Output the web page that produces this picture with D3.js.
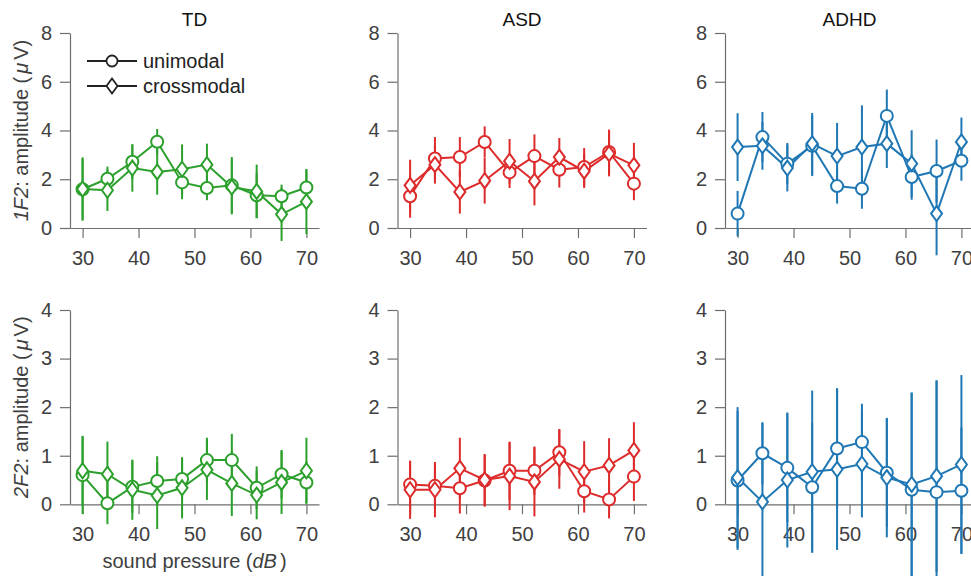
<!DOCTYPE html>
<meta charset="utf-8">
<style>
body { margin: 0; background: #fff; }
svg text { font-family: "Liberation Sans", Arial, sans-serif; fill: #404040; }
.axis path, .axis line { fill: none; stroke: #6e6e6e; stroke-width: 1.2px; }
.axis text { font-size: 20px; fill: #404040; }
.title { font-size: 19px; fill: #111; }
.label { font-size: 20px; }
.legend text { font-size: 20px; fill: #222; }
</style>
<div id="chart"></div>
<script src="https://d3js.org/d3.v7.min.js"></script>
<script>
var w = 971, h = 576;

// sound pressure levels (dB)
var levels = [30, 34.44, 38.89, 43.33, 47.78, 52.22, 56.67, 61.11, 65.56, 70];
var xTicks = [30, 40, 50, 60, 70];
var yTicksTop = [0, 2, 4, 6, 8];
var yTicksBottom = [0, 1, 2, 3, 4];
var groups = ["TD", "ASD", "ADHD"];
var groupColors = ["#2ca02c", "#dd2a2a", "#1f77b4"];

// 1F2 amplitude, mean and error
var td1Uni = [1.59, 2.02, 2.72, 3.54, 1.87, 1.64, 1.75, 1.34, 1.30, 1.66];
var td1UniErr = [1.25, 0.50, 0.71, 0.52, 0.69, 0.50, 1.16, 0.93, 0.48, 0.75];
var td1Cross = [1.60, 1.55, 2.46, 2.30, 2.41, 2.60, 1.68, 1.50, 0.56, 1.08];
var td1CrossErr = [1.30, 0.85, 0.97, 0.93, 1.02, 0.86, 1.12, 1.10, 1.09, 1.33];

var asd1Uni = [1.30, 2.85, 2.91, 3.53, 2.28, 2.95, 2.39, 2.50, 3.12, 1.82];
var asd1UniErr = [0.88, 0.88, 0.82, 0.64, 0.64, 0.89, 0.73, 0.78, 0.92, 0.68];
var asd1Cross = [1.75, 2.60, 1.48, 1.94, 2.74, 1.92, 2.91, 2.33, 3.05, 2.57];
var asd1CrossErr = [1.05, 0.78, 0.89, 0.94, 0.91, 0.99, 0.78, 0.69, 0.93, 0.92];

var adhd1Uni = [0.59, 3.73, 2.64, 3.37, 1.72, 1.61, 4.60, 2.09, 2.34, 2.76];
var adhd1UniErr = [0.93, 1.03, 0.85, 1.24, 0.72, 0.82, 1.08, 0.93, 1.29, 0.82];
var adhd1Cross = [3.32, 3.37, 2.46, 3.46, 2.95, 3.32, 3.46, 2.64, 0.59, 3.53];
var adhd1CrossErr = [1.39, 0.98, 0.96, 1.26, 1.36, 1.71, 1.00, 1.37, 1.71, 1.00];

// 2F2 amplitude, mean and error
var td2Uni = [0.60, 0.02, 0.36, 0.48, 0.52, 0.91, 0.91, 0.34, 0.62, 0.45];
var td2UniErr = [0.80, 0.43, 0.54, 0.51, 0.43, 0.46, 0.54, 0.44, 0.50, 0.43];
var td2Cross = [0.69, 0.62, 0.30, 0.18, 0.34, 0.71, 0.43, 0.19, 0.45, 0.69];
var td2CrossErr = [0.72, 0.67, 0.62, 0.69, 0.63, 0.62, 0.67, 0.50, 0.65, 0.68];

var asd2Uni = [0.41, 0.38, 0.33, 0.49, 0.69, 0.69, 1.07, 0.27, 0.10, 0.57];
var asd2UniErr = [0.47, 0.48, 0.52, 0.54, 0.60, 0.50, 0.48, 0.44, 0.39, 0.50];
var asd2Cross = [0.30, 0.30, 0.74, 0.50, 0.58, 0.46, 0.93, 0.67, 0.80, 1.11];
var asd2CrossErr = [0.60, 0.57, 0.63, 0.53, 0.70, 0.71, 0.61, 0.63, 0.56, 0.58];

var adhd2Uni = [0.49, 1.05, 0.75, 0.35, 1.15, 1.28, 0.65, 0.30, 0.25, 0.28];
var adhd2UniErr = [1.43, 0.64, 1.12, 1.32, 1.24, 0.79, 1.12, 2.00, 2.30, 1.30];
var adhd2Cross = [0.55, 0.05, 0.50, 0.67, 0.72, 0.83, 0.55, 0.41, 0.58, 0.82];
var adhd2CrossErr = [1.45, 1.62, 1.39, 1.67, 1.66, 1.10, 1.23, 1.89, 1.97, 1.84];

var rows = [
  { yMax: 8, ticks: yTicksTop, top: 33, bottom: 228,
    data: [[td1Uni, td1UniErr, td1Cross, td1CrossErr],
           [asd1Uni, asd1UniErr, asd1Cross, asd1CrossErr],
           [adhd1Uni, adhd1UniErr, adhd1Cross, adhd1CrossErr]] },
  { yMax: 4, ticks: yTicksBottom, top: 310, bottom: 504.3,
    data: [[td2Uni, td2UniErr, td2Cross, td2CrossErr],
           [asd2Uni, asd2UniErr, asd2Cross, asd2CrossErr],
           [adhd2Uni, adhd2UniErr, adhd2Cross, adhd2CrossErr]] }
];
var panelLeft = [70, 397.5, 725], panelW = 249;

var svg = d3.select("#chart").append("svg")
  .attr("width", w).attr("height", h);

function diamond(cx, cy) {
  return "M" + cx + "," + (cy - 7.5) + "L" + (cx + 5.5) + "," + cy +
    "L" + cx + "," + (cy + 7.5) + "L" + (cx - 5.5) + "," + cy + "Z";
}

rows.forEach(function (row, ri) {
  var y = d3.scaleLinear().domain([0, row.yMax]).range([row.bottom, row.top]);
  groups.forEach(function (g, gi) {
    var x = d3.scaleLinear().domain([27.75, 72.25])
      .range([panelLeft[gi], panelLeft[gi] + panelW]);
    var col = groupColors[gi];
    var p = svg.append("g");

    p.append("g").attr("class", "axis")
      .attr("transform", "translate(0," + row.bottom + ")")
      .call(d3.axisBottom(x).tickValues(xTicks).tickFormat(d3.format("d"))
        .tickSize(10).tickSizeOuter(0).tickPadding(13));
    p.append("g").attr("class", "axis")
      .attr("transform", "translate(" + panelLeft[gi] + ",0)")
      .call(d3.axisLeft(y).tickValues(row.ticks).tickFormat(d3.format("d"))
        .tickSize(10).tickSizeOuter(0).tickPadding(8));

    if (ri == 0) {
      p.append("text").attr("class", "title")
        .attr("x", panelLeft[gi] + panelW / 2).attr("y", 26)
        .attr("text-anchor", "middle").text(g);
    }

    var d = row.data[gi];
    var series = [
      { vals: d[0], err: d[1], shape: "circle" },
      { vals: d[2], err: d[3], shape: "diamond" }
    ];
    // error bars and lines first, markers on top
    series.forEach(function (s) {
      var pts = levels.map(function (l, i) { return { x: l, v: s.vals[i], e: s.err[i] }; });
      p.selectAll(null).data(pts).enter().append("line")
        .attr("x1", function (d) { return x(d.x); })
        .attr("x2", function (d) { return x(d.x); })
        .attr("y1", function (d) { return y(d.v - d.e); })
        .attr("y2", function (d) { return y(d.v + d.e); })
        .attr("stroke", col).attr("stroke-width", 2);
      p.append("path").datum(pts)
        .attr("fill", "none").attr("stroke", col).attr("stroke-width", 2)
        .attr("d", d3.line().x(function (d) { return x(d.x); }).y(function (d) { return y(d.v); }));
    });
    series.forEach(function (s) {
      var pts = levels.map(function (l, i) { return { x: l, v: s.vals[i] }; });
      if (s.shape == "circle") {
        p.selectAll(null).data(pts).enter().append("circle")
          .attr("cx", function (d) { return x(d.x); })
          .attr("cy", function (d) { return y(d.v); })
          .attr("r", 6).attr("fill", "#fff").attr("stroke", col).attr("stroke-width", 2);
      } else {
        p.selectAll(null).data(pts).enter().append("path")
          .attr("d", function (d) { return diamond(x(d.x), y(d.v)); })
          .attr("fill", "#fff").attr("stroke", col).attr("stroke-width", 2);
      }
    });
  });

  // y label
  var lab = svg.append("text").attr("class", "label")
    .attr("text-anchor", "middle")
    .attr("transform", "translate(28," + ((row.top + row.bottom) / 2) + ") rotate(-90)");
  lab.append("tspan").attr("font-style", "italic").text(ri == 0 ? "1F2" : "2F2");
  lab.append("tspan").text(": amplitude (");
  lab.append("tspan").attr("dx", 3).attr("font-style", "italic").text("\u03bc");
  lab.append("tspan").attr("dx", 3).text("V)");
});

// x label
var xl = svg.append("text").attr("class", "label")
  .attr("x", panelLeft[0] + panelW / 2).attr("y", 568).attr("text-anchor", "middle");
xl.append("tspan").text("sound pressure (");
xl.append("tspan").attr("font-style", "italic").text("dB");
xl.append("tspan").attr("dx", 3).text(")");

// legend
var leg = svg.append("g").attr("class", "legend");
[["unimodal", "circle", 61], ["crossmodal", "diamond", 86]].forEach(function (it) {
  leg.append("line").attr("x1", 87).attr("x2", 137).attr("y1", it[2]).attr("y2", it[2])
    .attr("stroke", "#222").attr("stroke-width", 1.8);
  if (it[1] == "circle") {
    leg.append("circle").attr("cx", 112).attr("cy", it[2]).attr("r", 5.5)
      .attr("fill", "#fff").attr("stroke", "#222").attr("stroke-width", 1.8);
  } else {
    leg.append("path").attr("d", diamond(112, it[2]))
      .attr("fill", "#fff").attr("stroke", "#222").attr("stroke-width", 1.8);
  }
  leg.append("text").attr("x", 143).attr("y", it[2] + 7).text(it[0]);
});
</script>
